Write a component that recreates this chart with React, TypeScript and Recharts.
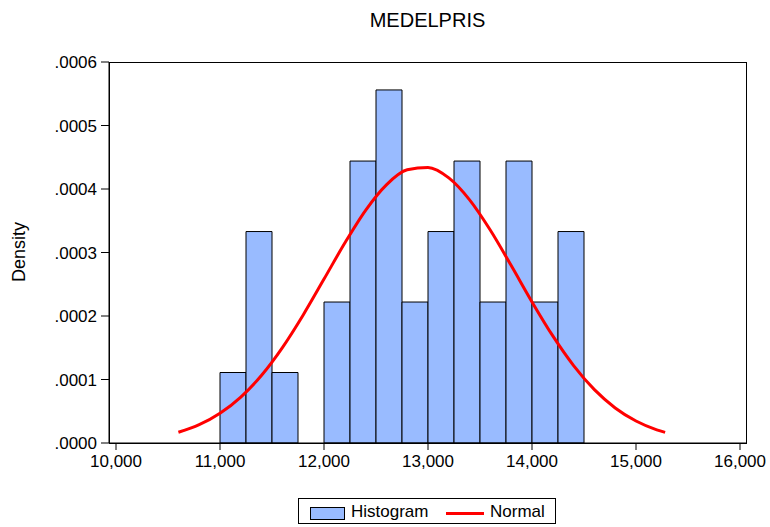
import { Bar, ComposedChart, Line, XAxis, YAxis } from "recharts";

// histogram bins of MEDELPRIS (width 250), full axis range 10,000 - 16,000
const binStarts = [
  10000, 10250, 10500, 10750, 11000, 11250, 11500, 11750, 12000, 12250, 12500, 12750,
  13000, 13250, 13500, 13750, 14000, 14250, 14500, 14750, 15000, 15250, 15500, 15750,
];
const binDensity = [
  null, null, null, null, 0.000111, 0.000333, 0.000111, null, 0.000222, 0.000444, 0.000556, 0.000222,
  0.000333, 0.000444, 0.000222, 0.000444, 0.000222, 0.000333, null, null, null, null, null, null,
];

// fitted normal curve
const normalX = [
  10600, 10800, 11000, 11200, 11400, 11600, 11800, 12000, 12200, 12400, 12600, 12800, 13000,
  13200, 13400, 13600, 13800, 14000, 14200, 14400, 14600, 14800, 15000, 15200, 15280,
];
const normalY = [
  0.0000169, 0.0000288, 0.0000468, 0.0000724, 0.0001067, 0.0001503, 0.0002017, 0.0002581,
  0.0003149, 0.0003665, 0.0004066, 0.0004302, 0.000434, 0.0004175, 0.0003829, 0.000335,
  0.0002794, 0.0002222, 0.0001686, 0.0001219, 0.000084, 0.0000552, 0.0000346, 0.0000207, 0.0000167,
];

const xTicks = [10000, 11000, 12000, 13000, 14000, 15000, 16000];
const yTicks = [0, 0.0001, 0.0002, 0.0003, 0.0004, 0.0005, 0.0006];

const bins = binStarts.map((b, i) => ({ bin: b, density: binDensity[i] }));
const normal = normalX.map((x, i) => ({ x, y: normalY[i] }));

const FONT = "'Liberation Sans', Arial, sans-serif";
const BLUE = "#99bbff";
const PAD = { left: 7, right: 6 };

const fmtY = (v: number) => (v === 0 ? ".0000" : v.toFixed(4).replace(/^0/, ""));
const fmtX = (v: number) => v.toLocaleString("en-US");

export default function App() {
  return (
    <div style={{ position: "absolute", left: 0, top: 0, width: 770, height: 527, fontFamily: FONT, background: "#fff" }}>
      <div style={{ position: "absolute", top: 9, left: 0, width: 855, textAlign: "center", fontSize: 20, color: "#000" }}>
        MEDELPRIS
      </div>
      <div
        style={{
          position: "absolute",
          left: 19,
          top: 252,
          transform: "translate(-50%, -50%) rotate(-90deg)",
          fontSize: 18,
          whiteSpace: "nowrap",
        }}
      >
        Density
      </div>
      <ComposedChart
        width={770}
        height={527}
        data={bins}
        barCategoryGap={0}
        barGap={0}
        margin={{ top: 62, right: 24, left: 0, bottom: 0 }}
        style={{ position: "absolute", left: 0, top: 0 }}
      >
        <XAxis xAxisId="bins" dataKey="bin" type="category" hide height={0} padding={PAD} />
        <XAxis
          xAxisId="num"
          dataKey="x"
          type="number"
          domain={[10000, 16000]}
          ticks={xTicks}
          tickFormatter={fmtX}
          allowDataOverflow
          padding={PAD}
          height={84}
          tickSize={7}
          tickMargin={5}
          stroke="#000"
          tick={{ fill: "#000", fontSize: 17, fontFamily: FONT }}
        />
        <YAxis
          domain={[0, 0.0006]}
          ticks={yTicks}
          tickFormatter={fmtY}
          width={109}
          tickSize={8}
          tickMargin={4}
          stroke="#000"
          tick={{ fill: "#000", fontSize: 17, fontFamily: FONT }}
        />
        <Bar xAxisId="bins" dataKey="density" fill={BLUE} stroke="#000" strokeWidth={1} isAnimationActive={false} />
        <Line
          xAxisId="num"
          data={normal}
          dataKey="y"
          type="monotone"
          stroke="#ff0000"
          strokeWidth={3}
          dot={false}
          isAnimationActive={false}
        />
      </ComposedChart>
      {/* plot frame */}
      <div
        style={{
          position: "absolute",
          left: 109,
          top: 62,
          width: 638,
          height: 382,
          border: "1px solid #000",
          boxSizing: "border-box",
          pointerEvents: "none",
        }}
      />
      <div
        style={{
          position: "absolute",
          left: 298,
          top: 498,
          width: 258,
          height: 26,
          border: "1px solid #000",
          boxSizing: "border-box",
          fontSize: 17,
        }}
      >
        <div style={{ position: "absolute", left: 11, top: 8, width: 35, height: 13, background: BLUE, border: "1px solid #000", boxSizing: "border-box" }} />
        <div style={{ position: "absolute", left: 52, top: 3 }}>Histogram</div>
        <div style={{ position: "absolute", left: 147, top: 13, width: 38, height: 3, background: "#ff0000" }} />
        <div style={{ position: "absolute", left: 191, top: 3 }}>Normal</div>
      </div>
    </div>
  );
}
